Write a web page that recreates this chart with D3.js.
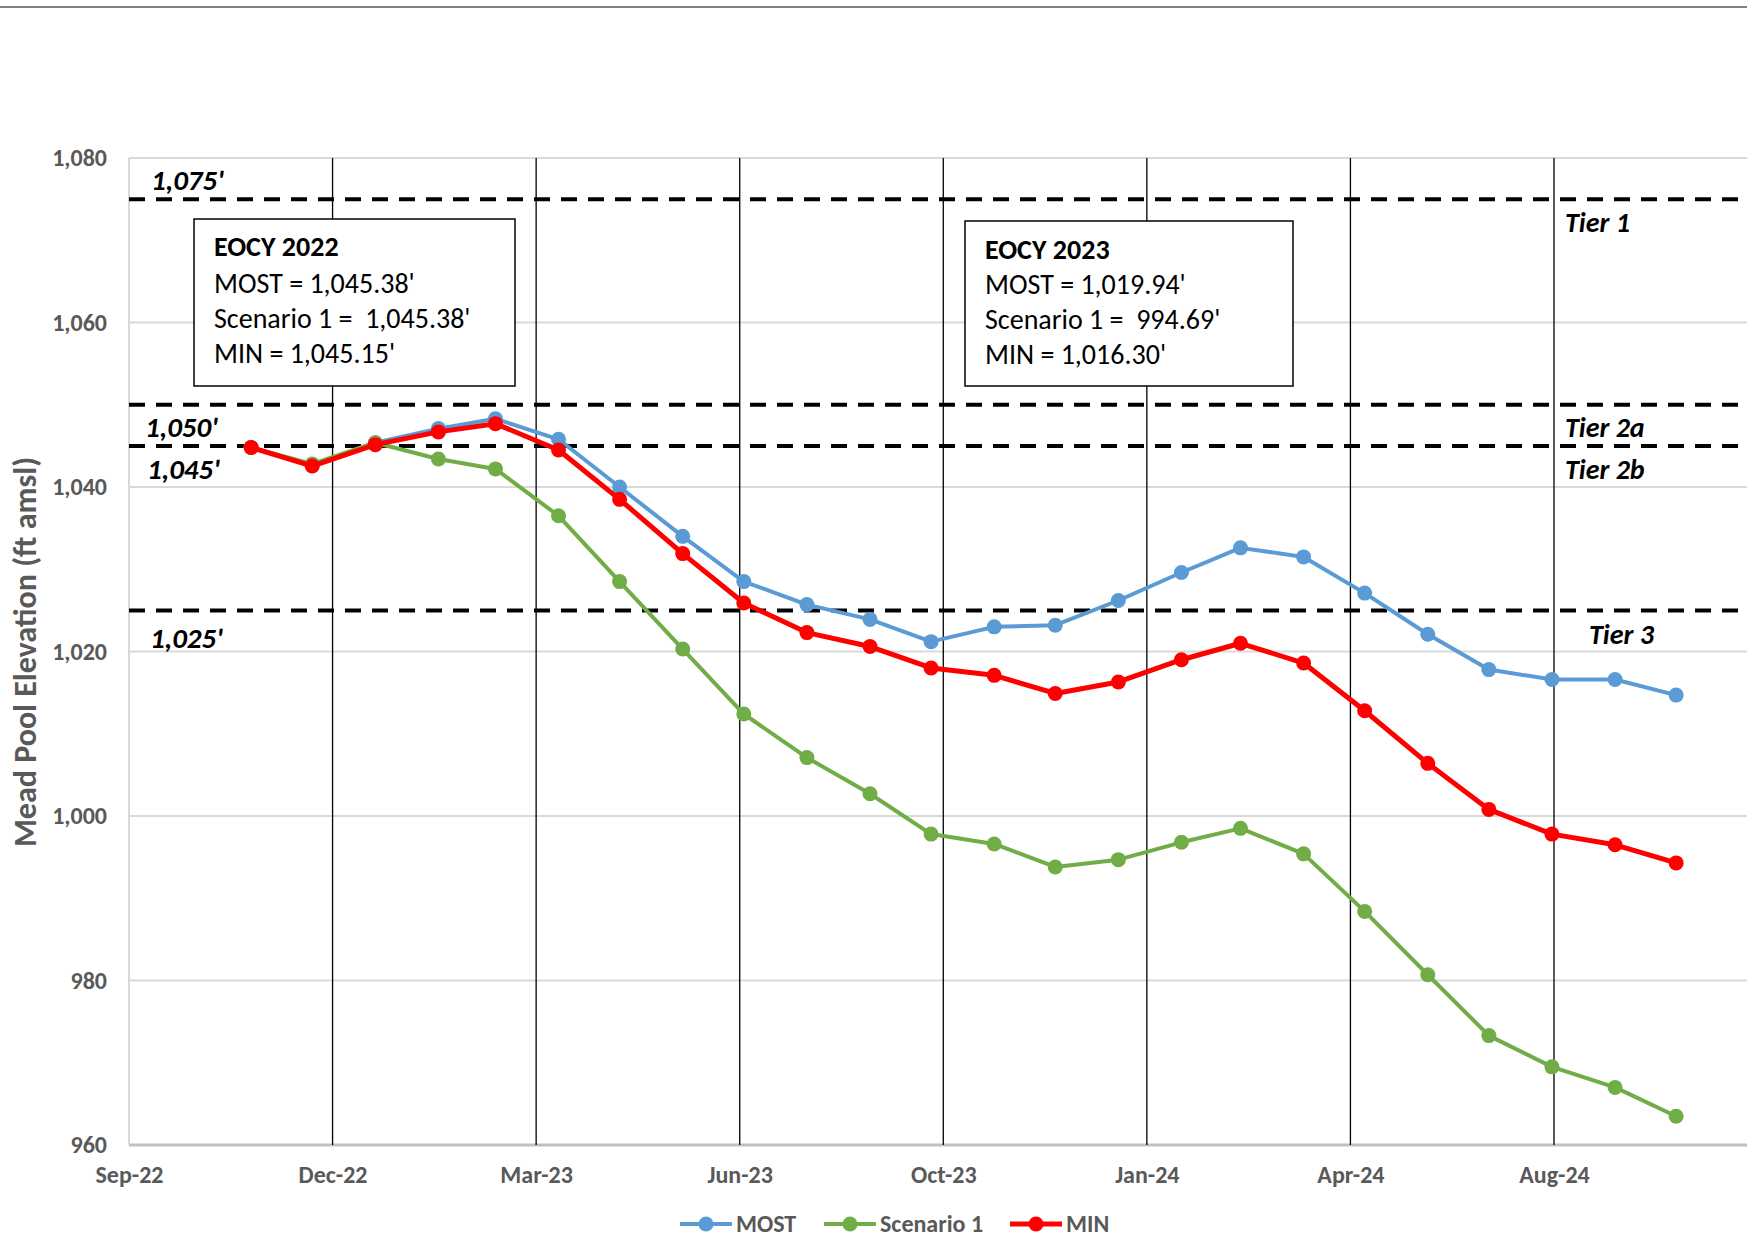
<!DOCTYPE html>
<html>
<head>
<meta charset="utf-8">
<script src="https://cdn.jsdelivr.net/npm/d3@7"></script>
<style>
  body { margin: 0; background: #fff; }
  text { font-family: Carlito, Lato, sans-serif; }
</style>
</head>
<body>
<div id="root"></div>
<script>
// Chart data.
const months = ['2022-10-31', '2022-11-30', '2022-12-31', '2023-01-31', '2023-02-28', '2023-03-31',
  '2023-04-30', '2023-05-31', '2023-06-30', '2023-07-31', '2023-08-31', '2023-09-30',
  '2023-10-31', '2023-11-30', '2023-12-31', '2024-01-31', '2024-02-29', '2024-03-31',
  '2024-04-30', '2024-05-31', '2024-06-30', '2024-07-31', '2024-08-31', '2024-09-30'];

const mostValues = [1044.8, 1042.6, 1045.38, 1047.1, 1048.3, 1045.8, 1040.0, 1034.0, 1028.5, 1025.7, 1023.9, 1021.2,
  1023.0, 1023.2, 1026.2, 1029.6, 1032.6, 1031.5, 1027.1, 1022.1, 1017.8, 1016.6, 1016.6, 1014.7];
const scenario1Values = [1044.8, 1042.8, 1045.38, 1043.4, 1042.2, 1036.5, 1028.5, 1020.3, 1012.4, 1007.1, 1002.7, 997.8,
  996.6, 993.8, 994.69, 996.8, 998.5, 995.4, 988.4, 980.7, 973.3, 969.5, 967.0, 963.5];
const minValues = [1044.8, 1042.55, 1045.15, 1046.7, 1047.7, 1044.5, 1038.5, 1031.9, 1025.9, 1022.3, 1020.6, 1018.0,
  1017.1, 1014.9, 1016.30, 1019.0, 1021.0, 1018.6, 1012.8, 1006.4, 1000.8, 997.8, 996.5, 994.3];

const seriesNames = ['MOST', 'Scenario 1', 'MIN'];
const yTicks = [960, 980, 1000, 1020, 1040, 1060, 1080];
const tierLevels = [1075, 1050, 1045, 1025];
const levelLabels = ["1,075'", "1,050'", "1,045'", "1,025'"];
const tierNames = ['Tier 1', 'Tier 2a', 'Tier 2b', 'Tier 3'];

const box2022 = ['EOCY 2022', "MOST = 1,045.38'", "Scenario 1 =  1,045.38'", "MIN = 1,045.15'"];
const box2023 = ['EOCY 2023', "MOST = 1,019.94'", "Scenario 1 =  994.69'", "MIN = 1,016.30'"];

// Layout and styles.
const width = 1747;
const height = 1238;
const plotLeft = 129, plotTop = 158, plotBottom = 1145;
const dayPx = 2.0357;
const gray = '#595959';
const colors = ['#5B9BD5', '#70AD47', '#FF0000'];
const lineWidths = [4, 4, 5];

const parse = d3.utcParse('%Y-%m-%d');
const start = parse('2022-09-01');
const dates = months.map(parse);
const tickDates = d3.range(8).map(k => d3.utcDay.offset(start, k * 100));

const xScale = d3.scaleUtc()
  .domain([start, d3.utcDay.offset(start, 800)])
  .range([plotLeft, plotLeft + 800 * dayPx]);

const yScale = d3.scaleLinear()
  .domain([960, 1080])
  .range([plotBottom, plotTop]);

const svg = d3.select('#root')
  .append('svg')
  .attr('width', width)
  .attr('height', height);

// Thin border line at the very top.
svg.append('line')
  .attr('x1', 0).attr('x2', width)
  .attr('y1', 7).attr('y2', 7)
  .attr('stroke', '#7f7f7f').attr('stroke-width', 2);

// Horizontal gridlines.
svg.append('g')
  .selectAll('line')
  .data(yTicks)
  .enter()
  .append('line')
  .attr('x1', plotLeft).attr('x2', width)
  .attr('y1', d => yScale(d)).attr('y2', d => yScale(d))
  .attr('stroke', d => d === 960 ? '#bfbfbf' : '#d9d9d9')
  .attr('stroke-width', d => d === 960 ? 3 : 2);

// Left axis line.
svg.append('line')
  .attr('x1', plotLeft).attr('x2', plotLeft)
  .attr('y1', plotTop).attr('y2', plotBottom)
  .attr('stroke', '#d9d9d9').attr('stroke-width', 2);

// Vertical black lines at the date ticks.
svg.append('g')
  .selectAll('line')
  .data(tickDates.slice(1))
  .enter()
  .append('line')
  .attr('x1', d => xScale(d)).attr('x2', d => xScale(d))
  .attr('y1', plotTop).attr('y2', plotBottom)
  .attr('stroke', '#000').attr('stroke-width', 1.3);

// Tier threshold lines.
svg.append('g')
  .selectAll('line')
  .data(tierLevels)
  .enter()
  .append('line')
  .attr('x1', plotLeft).attr('x2', width)
  .attr('y1', d => yScale(d)).attr('y2', d => yScale(d))
  .attr('stroke', '#000').attr('stroke-width', 4)
  .attr('stroke-dasharray', '16,11');

// Level labels on the left, tier names on the right.
const levelOffsets = [-9, 32, 33, 38];
const levelX = [151, 145, 147, 150];
const tierOffsets = [33, 32, 33, 34];
const tierX = [1565, 1565, 1565, 1589];

svg.append('g')
  .selectAll('text')
  .data(tierLevels)
  .enter()
  .append('text')
  .attr('x', (d, i) => levelX[i])
  .attr('y', (d, i) => yScale(d) + levelOffsets[i])
  .attr('font-size', 29).attr('font-weight', 'bold').attr('font-style', 'italic')
  .text((d, i) => levelLabels[i]);

svg.append('g')
  .selectAll('text')
  .data(tierLevels)
  .enter()
  .append('text')
  .attr('x', (d, i) => tierX[i])
  .attr('y', (d, i) => yScale(d) + tierOffsets[i])
  .attr('font-size', 28).attr('font-weight', 'bold').attr('font-style', 'italic')
  .text((d, i) => tierNames[i]);

// Annotation boxes.
let drawBox = (lines, x, y, w, h, baselines) => {
  svg.append('rect')
    .attr('x', x).attr('y', y)
    .attr('width', w).attr('height', h)
    .attr('fill', '#fff').attr('stroke', '#000').attr('stroke-width', 1.5);
  svg.append('g')
    .selectAll('text')
    .data(lines)
    .enter()
    .append('text')
    .attr('x', x + 20)
    .attr('y', (d, i) => y + baselines[i])
    .attr('font-size', 28)
    .attr('font-weight', (d, i) => i === 0 ? 'bold' : 'normal')
    .style('white-space', 'pre')
    .text(d => d);
};
drawBox(box2022, 194, 219, 321, 167, [37, 74, 109, 144]);
drawBox(box2023, 965, 221, 328, 165, [38, 73, 108, 143]);

// Series lines and markers.
const allSeries = [mostValues, scenario1Values, minValues];
const line = d3.line()
  .x((d, i) => xScale(dates[i]))
  .y(d => yScale(d));

allSeries.forEach((values, s) => {
  svg.append('path')
    .datum(values)
    .attr('d', line)
    .attr('fill', 'none')
    .attr('stroke', colors[s])
    .attr('stroke-width', lineWidths[s])
    .attr('stroke-linejoin', 'round');
  svg.append('g')
    .selectAll('circle')
    .data(values)
    .enter()
    .append('circle')
    .attr('cx', (d, i) => xScale(dates[i]))
    .attr('cy', d => yScale(d))
    .attr('r', 7.5)
    .attr('fill', colors[s]);
});

// Axes (labels only).
const xAxis = d3.axisBottom(xScale)
  .tickValues(tickDates)
  .tickSize(0)
  .tickPadding(0)
  .tickFormat(d3.utcFormat('%b-%y'));

const yAxis = d3.axisLeft(yScale)
  .tickValues(yTicks)
  .tickSize(0)
  .tickPadding(0)
  .tickFormat(d3.format(','));

const gx = svg.append('g')
  .attr('transform', `translate(0, 1166)`)
  .call(xAxis);
gx.select('.domain').remove();
gx.selectAll('text')
  .attr('font-family', 'Carlito, Lato, sans-serif')
  .attr('font-size', 24).attr('font-weight', 'bold').attr('fill', gray);

const gy = svg.append('g')
  .attr('transform', `translate(107, 0)`)
  .call(yAxis);
gy.select('.domain').remove();
gy.selectAll('text')
  .attr('font-family', 'Carlito, Lato, sans-serif')
  .attr('font-size', 24).attr('font-weight', 'bold').attr('fill', gray);

// Y axis title.
svg.append('text')
  .attr('transform', 'translate(36, 652) rotate(-90)')
  .attr('text-anchor', 'middle')
  .attr('font-size', 32).attr('font-weight', 'bold').attr('fill', gray)
  .text('Mead Pool Elevation (ft amsl)');

// Legend.
const legendX = [680, 824, 1010];
const legend = svg.append('g');
seriesNames.forEach((name, s) => {
  const lx = legendX[s];
  legend.append('line')
    .attr('x1', lx).attr('x2', lx + 52)
    .attr('y1', 1224).attr('y2', 1224)
    .attr('stroke', colors[s]).attr('stroke-width', lineWidths[s]);
  legend.append('circle')
    .attr('cx', lx + 26).attr('cy', 1224).attr('r', 7.5)
    .attr('fill', colors[s]);
  legend.append('text')
    .attr('x', lx + 56).attr('y', 1232)
    .attr('font-size', 24).attr('font-weight', 'bold').attr('fill', gray)
    .text(name);
});
</script>
</body>
</html>
